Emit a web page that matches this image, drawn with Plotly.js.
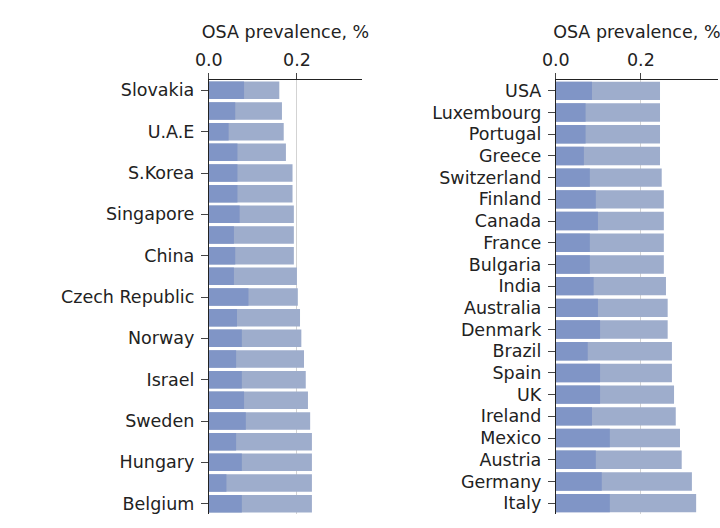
<!DOCTYPE html>
<html><head><meta charset="utf-8">
<script src="https://cdn.plot.ly/plotly-3.0.1.min.js"></script>
</head><body style="margin:0">
<div id="myPlot" style="width:720px;height:528px"></div>
<script>
// left panel
const countriesA = ["Slovakia","Japan","U.A.E","Russia","S.Korea","Thailand","Singapore","Estonia","China","N.Z","Czech Republic","Netherlands","Norway","Poland","Israel","Romania","Sweden","Croatia","Hungary","Turkey","Belgium"];
const totalA = [0.16,0.166,0.17,0.175,0.19,0.19,0.193,0.193,0.193,0.2,0.202,0.207,0.21,0.216,0.22,0.225,0.23,0.234,0.234,0.234,0.234];
const severeA = [0.08,0.06,0.045,0.065,0.065,0.065,0.07,0.057,0.06,0.057,0.09,0.064,0.075,0.062,0.075,0.08,0.084,0.062,0.075,0.04,0.075];
// right panel
const countriesB = ["USA","Luxembourg","Portugal","Greece","Switzerland","Finland","Canada","France","Bulgaria","India","Australia","Denmark","Brazil","Spain","UK","Ireland","Mexico","Austria","Germany","Italy"];
const totalB = [0.245,0.245,0.245,0.245,0.249,0.254,0.254,0.254,0.254,0.259,0.263,0.263,0.273,0.273,0.278,0.282,0.292,0.296,0.32,0.33];
const severeB = [0.085,0.07,0.07,0.066,0.08,0.094,0.099,0.08,0.08,0.089,0.099,0.104,0.075,0.104,0.104,0.085,0.127,0.094,0.108,0.127];

const light = "rgb(158,173,204)";
const dark = "rgb(128,149,198)";
function bars(x, y, color, xa, ya) {
  return {type: "bar", orientation: "h", x: x, y: y, xaxis: xa, yaxis: ya,
    marker: {color: color}, width: 0.85, hoverinfo: "x+y"};
}
const data = [
  bars(totalA, countriesA, light, "x", "y"),
  bars(severeA, countriesA, dark, "x", "y"),
  bars(totalB, countriesB, light, "x2", "y2"),
  bars(severeB, countriesB, dark, "x2", "y2")
];
const fnt = {family: "DejaVu Sans", size: 17.5, color: "#222"};
function xax(dom, max, anchor) {
  return {domain: dom, range: [0, max], side: "top", anchor: anchor, tickvals: [0, 0.2], ticktext: ["0.0", "0.2"],
    showgrid: true, gridcolor: "#d3d3d3", showline: true, linecolor: "#222", ticks: "outside", ticklen: 6,
    tickfont: fnt, zeroline: false, title: {text: "OSA prevalence, %", font: fnt, standoff: 6}};
}
function yax(anchor) {
  return {anchor: anchor, domain: [0, 1], autorange: "reversed", showline: true, linecolor: "#222",
    ticks: "outside", ticklen: 7, tickfont: fnt, showgrid: false, ticklabelstandoff: 3};
}
const layout = {
  barmode: "overlay", showlegend: false,
  margin: {l: 0, r: 0, t: 80, b: 14},
  paper_bgcolor: "white", plot_bgcolor: "white",
  xaxis: xax([0.29, 0.503], 0.348, "y"),
  yaxis: yax("x"),
  xaxis2: xax([0.772, 0.997], 0.381, "y2"),
  yaxis2: yax("x2")
};
Plotly.newPlot("myPlot", data, layout, {displayModeBar: false});
</script>
</body></html>
